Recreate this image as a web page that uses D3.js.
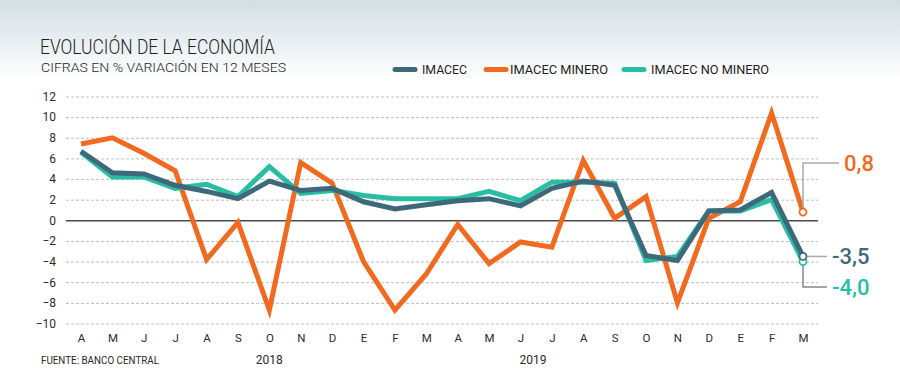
<!DOCTYPE html>
<html>
<head>
<meta charset="utf-8">
<script src="https://cdn.jsdelivr.net/npm/d3@7"></script>
<style>
  html, body { margin: 0; padding: 0; background: #fff; }
  svg { display: block; font-family: Roboto, "Noto Sans", sans-serif; }
</style>
</head>
<body>
<script>
// months from Apr 2018 to Mar 2020
const months = ["A","M","J","J","A","S","O","N","D","E","F","M",
                "A","M","J","J","A","S","O","N","D","E","F","M"];
const yTicks = [12, 10, 8, 6, 4, 2, 0, -2, -4, -6, -8, -10];
const years = [{ label: "2018", at: 6.0 }, { label: "2019", at: 14.4 }];

const imacec = [6.7, 4.6, 4.5, 3.4, 2.8, 2.1, 3.8, 2.9, 3.1, 1.8, 1.1, 1.5,
                1.9, 2.1, 1.4, 3.1, 3.8, 3.4, -3.4, -3.9, 0.9, 1.0, 2.7, -3.5];
const minero = [7.4, 8.0, 6.5, 4.8, -3.8, -0.2, -8.7, 5.6, 3.6, -4.0, -8.7, -5.2,
                -0.4, -4.2, -2.1, -2.6, 5.8, 0.2, 2.3, -8.0, 0.2, 1.8, 10.4, 0.8];
const noMinero = [6.6, 4.2, 4.2, 3.1, 3.5, 2.3, 5.2, 2.6, 2.9, 2.4, 2.1, 2.1,
                  2.1, 2.8, 1.9, 3.7, 3.7, 3.6, -3.9, -3.5, 0.9, 0.9, 2.0, -4.0];

const width = 900, height = 392;

const svg = d3.select("body").append("svg")
    .attr("width", width)
    .attr("height", height);

// soft gradient at the top
const defs = svg.append("defs");
const grad = defs.append("linearGradient")
    .attr("id", "bg").attr("x1", 0).attr("y1", 0).attr("x2", 0).attr("y2", 1);
grad.append("stop").attr("offset", "0%").attr("stop-color", "#d2dee4");
grad.append("stop").attr("offset", "100%").attr("stop-color", "#ffffff");
svg.append("rect").attr("width", width).attr("height", height).attr("fill", "#fff");
svg.append("rect").attr("width", width).attr("height", 80).attr("fill", "url(#bg)");

// title
svg.append("text")
    .attr("x", 40).attr("y", 54)
    .attr("font-size", 20).attr("font-weight", 300).attr("fill", "#1e1e1e")
    .attr("textLength", 235).attr("lengthAdjust", "spacingAndGlyphs")
    .text("EVOLUCIÓN DE LA ECONOMÍA");
svg.append("text")
    .attr("x", 41).attr("y", 72)
    .attr("font-size", 13.5).attr("font-weight", 300).attr("fill", "#1e1e1e")
    .attr("textLength", 245).attr("lengthAdjust", "spacingAndGlyphs")
    .text("CIFRAS EN % VARIACIÓN EN 12 MESES");

const x = d3.scalePoint().domain(d3.range(months.length)).range([81, 803]);
const y = d3.scaleLinear().domain([-10, 12]).range([323.5, 96.5]);

// grid
const yAxis = svg.append("g")
    .attr("transform", "translate(66,0)")
    .call(d3.axisLeft(y).tickValues(yTicks).tickSize(-752).tickPadding(10));
yAxis.select(".domain").remove();
yAxis.selectAll("line")
    .attr("stroke", d => d === 0 ? "#4a4a4a" : "#bdbdbd")
    .attr("stroke-width", d => d === 0 ? 1.5 : 1)
    .attr("stroke-dasharray", d => d === 0 ? null : "3,2");
yAxis.selectAll("text")
    .attr("font-size", 12).attr("fill", "#2a2a2a")
    .attr("font-family", "Roboto, sans-serif");

const xAxis = svg.append("g")
    .attr("transform", "translate(0,326)")
    .call(d3.axisBottom(x).tickSize(0).tickPadding(8).tickFormat(i => months[i]));
xAxis.select(".domain").remove();
xAxis.selectAll("text")
    .attr("font-size", 11.5).attr("fill", "#2a2a2a")
    .attr("font-family", "Roboto, sans-serif");

svg.selectAll(".year")
    .data(years)
    .join("text")
    .attr("class", "year")
    .attr("x", d => 81 + (803 - 81) / 23 * d.at)
    .attr("y", 364)
    .attr("text-anchor", "middle")
    .attr("font-size", 12).attr("fill", "#2a2a2a")
    .text(d => d.label);

svg.append("text")
    .attr("x", 41).attr("y", 364)
    .attr("font-size", 10.5).attr("fill", "#2a2a2a")
    .attr("textLength", 118).attr("lengthAdjust", "spacingAndGlyphs")
    .text("FUENTE: BANCO CENTRAL");

// series
const series = [
    { name: "IMACEC MINERO", values: minero, color: "#f26a1f" },
    { name: "IMACEC NO MINERO", values: noMinero, color: "#27bea4" },
    { name: "IMACEC", values: imacec, color: "#3e697b" }
];

const line = d3.line()
    .x((d, i) => x(i))
    .y(d => y(d));

svg.append("g")
    .selectAll("path")
    .data(series)
    .join("path")
    .attr("d", d => line(d.values))
    .attr("fill", "none")
    .attr("stroke", d => d.color)
    .attr("stroke-width", 5)
    .attr("stroke-linejoin", "miter")
    .attr("stroke-miterlimit", 4);

// end markers
const last = months.length - 1;
svg.append("g")
    .selectAll("circle")
    .data(series)
    .join("circle")
    .attr("cx", x(last))
    .attr("cy", d => y(d.values[last]))
    .attr("r", 3.5)
    .attr("fill", "#fff")
    .attr("stroke", d => d.color)
    .attr("stroke-width", 1.8);

// callouts
const fmt = v => d3.format(".1f")(v).replace(".", ",").replace("−", "-");
const callouts = [
    { s: series[0], ty: 163, text: fmt(minero[last]) },
    { s: series[2], ty: y(imacec[last]), text: fmt(imacec[last]) },
    { s: series[1], ty: 287, text: fmt(noMinero[last]) }
];
const cx = x(last);
const co = svg.append("g");
callouts.forEach(c => {
    const py = y(c.s.values[last]);
    const endX = c.s === series[0] ? 839 : 827;
    const off = c.ty < py ? -4 : 4;
    const pts = c.ty === py
        ? [[cx + 4, py], [endX, py]]
        : [[cx, py + off], [cx, c.ty], [endX, c.ty]];
    co.append("path")
        .attr("d", d3.line()(pts))
        .attr("fill", "none")
        .attr("stroke", c.s === series[1] ? "#888" : "#aaa")
        .attr("stroke-width", 1.5);
    co.append("text")
        .attr("x", endX + 5)
        .attr("y", c.ty)
        .attr("dy", "0.36em")
        .attr("font-size", 22).attr("font-weight", 500)
        .attr("fill", c.s.color)
        .text(c.text);
});

// legend
const legend = [
    { name: "IMACEC", color: "#3e697b", x0: 393, tx: 422, tw: 45 },
    { name: "IMACEC MINERO", color: "#f26a1f", x0: 484, tx: 510, tw: 98 },
    { name: "IMACEC NO MINERO", color: "#27bea4", x0: 622, tx: 651, tw: 118 }
];
const lg = svg.append("g");
legend.forEach(l => {
    lg.append("line")
        .attr("x1", l.x0 + 2).attr("x2", l.x0 + 22)
        .attr("y1", 69.5).attr("y2", 69.5)
        .attr("stroke", l.color).attr("stroke-width", 5)
        .attr("stroke-linecap", "round");
    lg.append("text")
        .attr("x", l.tx).attr("y", 74.3)
        .attr("font-size", 13).attr("fill", "#1e1e1e")
        .attr("textLength", l.tw).attr("lengthAdjust", "spacingAndGlyphs")
        .text(l.name);
});
</script>
</body>
</html>
